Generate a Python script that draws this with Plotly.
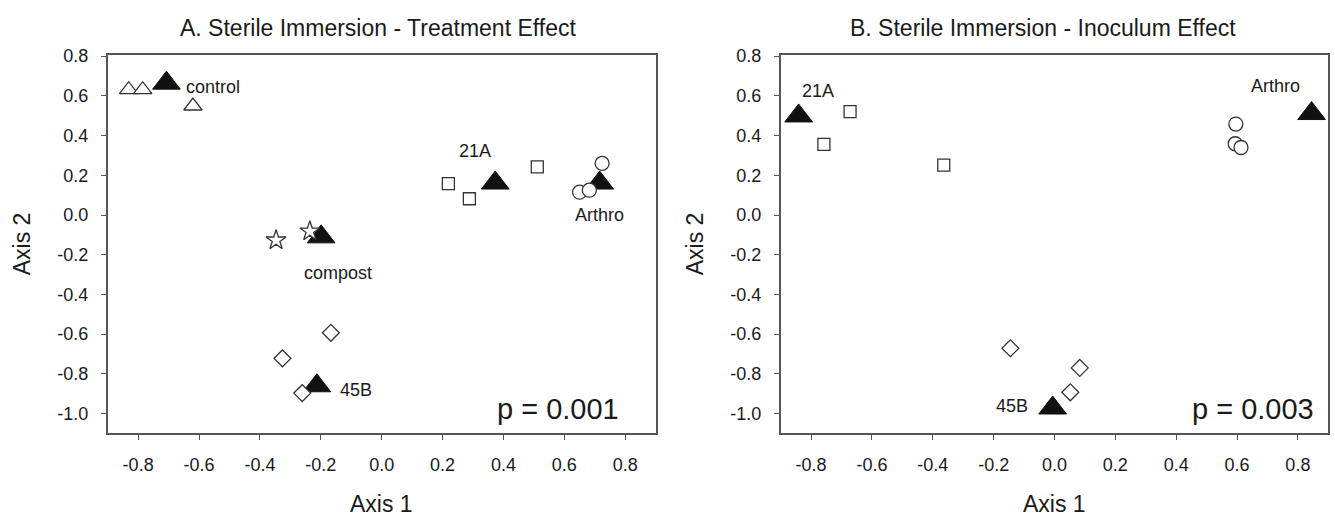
import plotly.graph_objects as go

# ---------------- Data ----------------
# Panel A: Treatment effect
a_control_x = [-0.831, -0.785, -0.620]
a_control_y = [0.631, 0.631, 0.549]
a_compost_x = [-0.347, -0.236]
a_compost_y = [-0.127, -0.082]
a_21a_x = [0.219, 0.288, 0.511]
a_21a_y = [0.158, 0.082, 0.242]
a_arthro_x = [0.724, 0.650, 0.682]
a_arthro_y = [0.260, 0.115, 0.125]
a_45b_x = [-0.167, -0.326, -0.261]
a_45b_y = [-0.593, -0.722, -0.897]
a_cent_names = ["control", "compost", "21A", "Arthro", "45B"]
a_cent_x = [-0.707, -0.199, 0.373, 0.716, -0.213]
a_cent_y = [0.664, -0.110, 0.161, 0.161, -0.860]
a_p_text = "p = 0.001"

# Panel B: Inoculum effect
b_21a_x = [-0.672, -0.758, -0.364]
b_21a_y = [0.521, 0.356, 0.251]
b_arthro_x = [0.596, 0.594, 0.613]
b_arthro_y = [0.458, 0.359, 0.340]
b_45b_x = [-0.145, 0.083, 0.052]
b_45b_y = [-0.671, -0.770, -0.893]
b_cent_names = ["21A", "Arthro", "45B"]
b_cent_x = [-0.841, 0.845, -0.006]
b_cent_y = [0.499, 0.511, -0.972]
b_p_text = "p = 0.003"

tick_vals_x = [-0.8, -0.6, -0.4, -0.2, 0.0, 0.2, 0.4, 0.6, 0.8]
tick_vals_y = [0.8, 0.6, 0.4, 0.2, 0.0, -0.2, -0.4, -0.6, -0.8, -1.0]
tick_text_x = ["-0.8", "-0.6", "-0.4", "-0.2", "0.0", "0.2", "0.4", "0.6", "0.8"]
tick_text_y = ["0.8", "0.6", "0.4", "0.2", "0.0", "-0.2", "-0.4", "-0.6", "-0.8", "-1.0"]

# ---------------- Styles ----------------
FONT = "Liberation Sans, Arial, sans-serif"
TXT = "#1a1a1a"
EDGE = "#333333"
AX = "#555555"

fig = go.Figure()


def open_markers(x, y, symbol, size, xa, ya):
    fig.add_trace(go.Scatter(
        x=x, y=y, mode="markers", xaxis=xa, yaxis=ya, showlegend=False,
        marker=dict(symbol=symbol, size=size, color="white",
                    line=dict(color=EDGE, width=1.3)),
        hoverinfo="skip"))


def centroids(x, y, xa, ya):
    fig.add_trace(go.Scatter(
        x=x, y=y, mode="markers", xaxis=xa, yaxis=ya, showlegend=False,
        marker=dict(symbol="triangle-up", size=24, color="#111111",
                    line=dict(color="#111111", width=1)),
        hoverinfo="skip"))


# Panel A
centroids(a_cent_x, a_cent_y, "x", "y")
open_markers(a_control_x, a_control_y, "triangle-up", 16, "x", "y")
open_markers(a_compost_x, a_compost_y, "star", 15, "x", "y")
open_markers(a_21a_x, a_21a_y, "square", 12, "x", "y")
open_markers(a_arthro_x, a_arthro_y, "circle", 14, "x", "y")
open_markers(a_45b_x, a_45b_y, "diamond", 13, "x", "y")

# Panel B
centroids(b_cent_x, b_cent_y, "x2", "y2")
open_markers(b_21a_x, b_21a_y, "square", 12, "x2", "y2")
open_markers(b_arthro_x, b_arthro_y, "circle", 14, "x2", "y2")
open_markers(b_45b_x, b_45b_y, "diamond", 13, "x2", "y2")

axis_common = dict(
    showgrid=False, zeroline=False, showline=True, linecolor=AX, linewidth=1.5,
    mirror=True, ticks="outside", ticklen=5, tickcolor=AX, tickwidth=1.2,
    tickfont=dict(family=FONT, size=18, color=TXT),
)

X_RANGE = [-0.9, 0.9]
Y_RANGE = [-1.098, 0.808]
Y_DOM = [1 - 431.7 / 518, 1 - 47.3 / 518]

fig.update_layout(
    width=1335, height=518,
    margin=dict(l=0, r=0, t=0, b=0),
    paper_bgcolor="white", plot_bgcolor="white",
    xaxis=dict(domain=[107.7 / 1335, 655.7 / 1335], range=X_RANGE,
               tickvals=tick_vals_x, ticktext=tick_text_x,
               ticklabelstandoff=10, anchor="y", **axis_common),
    yaxis=dict(domain=Y_DOM, range=Y_RANGE,
               tickvals=tick_vals_y, ticktext=tick_text_y,
               ticklabelstandoff=9, anchor="x", **axis_common),
    xaxis2=dict(domain=[780.7 / 1335, 1328.3 / 1335], range=X_RANGE,
                tickvals=tick_vals_x, ticktext=tick_text_x,
                ticklabelstandoff=10, anchor="y2", **axis_common),
    yaxis2=dict(domain=Y_DOM, range=Y_RANGE,
                tickvals=tick_vals_y, ticktext=tick_text_y,
                ticklabelstandoff=9, anchor="x2", **axis_common),
)

ann = []


def label(text, x, y, xref, yref, size=18, xanchor="center"):
    ann.append(dict(text=text, x=x, y=y, xref=xref, yref=yref, showarrow=False,
                    xanchor=xanchor, yanchor="middle",
                    font=dict(family=FONT, size=size, color=TXT)))


# Panel A labels
label("control", -0.650, 0.644, "x", "y", xanchor="left")
label("compost", -0.143, -0.292, "x", "y")
label("21A", 0.306, 0.323, "x", "y")
label("Arthro", 0.717, 0.0, "x", "y")
label("45B", -0.145, -0.882, "x", "y", xanchor="left")
label(a_p_text, 0.785, -0.975, "x", "y", size=29, xanchor="right")

# Panel B labels
label("21A", -0.776, 0.626, "x2", "y2")
label("Arthro", 0.728, 0.648, "x2", "y2")
label("45B", -0.139, -0.964, "x2", "y2")
label(b_p_text, 0.858, -0.975, "x2", "y2", size=29, xanchor="right")

# Titles
label("A. Sterile Immersion - Treatment Effect", 378 / 1335, 1 - 20.7 / 518, "paper", "paper", size=23)
label("B. Sterile Immersion - Inoculum Effect", 1043 / 1335, 1 - 20.7 / 518, "paper", "paper", size=23)
label("Axis 1", 381 / 1335, 1 - 504 / 518, "paper", "paper", size=23)
label("Axis 1", 1054.5 / 1335, 1 - 504 / 518, "paper", "paper", size=23)
ann.append(dict(text="Axis 2", x=22 / 1335, y=1 - 240 / 518, xref="paper", yref="paper",
                showarrow=False, textangle=-90, xanchor="center", yanchor="middle",
                font=dict(family=FONT, size=23, color=TXT)))
ann.append(dict(text="Axis 2", x=695 / 1335, y=1 - 240 / 518, xref="paper", yref="paper",
                showarrow=False, textangle=-90, xanchor="center", yanchor="middle",
                font=dict(family=FONT, size=23, color=TXT)))

fig.update_layout(annotations=ann)

fig.write_html("out.html")
